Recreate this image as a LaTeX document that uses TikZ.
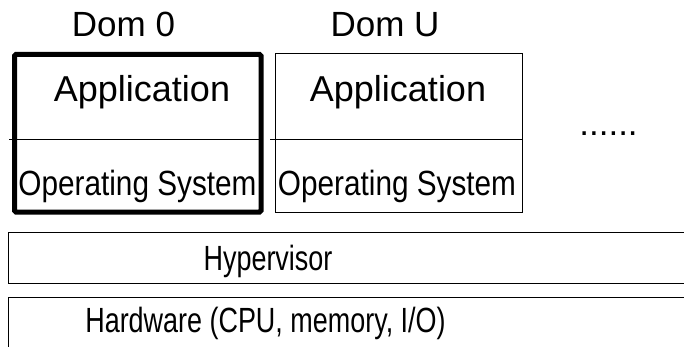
\documentclass[tikz,border=0pt]{standalone}
\usepackage{fontspec}
\usepackage{graphicx}
\setmainfont{Liberation Sans}
\begin{document}
\begin{tikzpicture}[x=1pt,y=-1pt,
  lbl/.style={inner sep=0pt, anchor=base, font=\fontsize{35}{40}\selectfont},
  applbl/.style={lbl, font=\fontsize{36}{40}\selectfont},
  thinbox/.style={draw, line width=1pt, inner sep=0pt},
  thickbox/.style={draw, line width=5pt, inner sep=0pt, rounded corners=1.5pt},
  divider/.style={line width=1pt}]
\useasboundingbox (0,0) rectangle (684,347);
\clip (0,0) rectangle (684,347);
% boxes
\node[thickbox, minimum width=246.5pt, minimum height=157.5pt] (dom0) at (137.75,133.25) {};
\node[thinbox, minimum width=247pt, minimum height=158pt] (domu) at (398.5,133) {};
\node[thinbox, minimum width=692pt, minimum height=51pt] (hyp) at (354,257.5) {};
\node[thinbox, minimum width=692pt, minimum height=63pt] (hw) at (354,328.5) {};
% dividers
\coordinate (d0a) at (9,140);
\coordinate (d0b) at (262,140);
\coordinate (dua) at (270,140);
\coordinate (dub) at (522,140);
\draw[divider] (d0a) -- (d0b);
\draw[divider] (dua) -- (dub);
% texts
\node[lbl] (t0) at (123.5,37) {Dom 0};
\node[lbl] (tu) at (385,37) {Dom U};
\node[applbl] (app0) at (142,102) {Application};
\node[applbl] (appu) at (398,102) {Application};
\node[lbl] (os0) at (137.5,196) {\scalebox{0.85}[1]{Operating System}};
\node[lbl] (osu) at (397,196) {\scalebox{0.85}[1]{Operating System}};
\node[lbl] (hyplbl) at (268,270) {\scalebox{0.77}[1]{Hypervisor}};
\node[lbl] (hwlbl) at (265.5,332) {\scalebox{0.77}[1]{Hardware (CPU, memory, I/O)}};
\node[lbl] (dots) at (608.5,136) {......};
\end{tikzpicture}
\end{document}
